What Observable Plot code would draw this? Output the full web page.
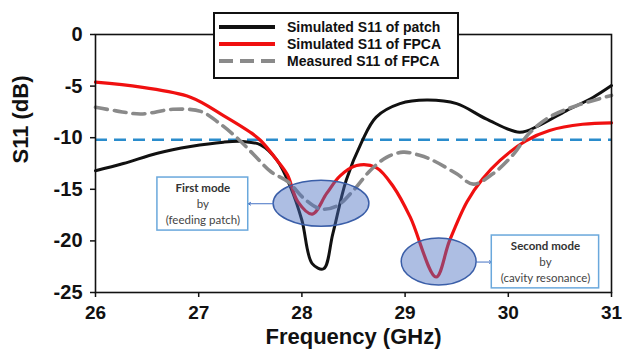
<!DOCTYPE html>
<html><head><meta charset="utf-8">
<script src="https://cdn.jsdelivr.net/npm/d3@7"></script>
<script src="https://cdn.jsdelivr.net/npm/@observablehq/plot@0.6"></script>
<style>
body{margin:0;background:#fff;}
#wrap{position:relative;width:622px;height:357px;font-family:"Liberation Sans",Arial,sans-serif;}
#legend{position:absolute;left:213px;top:12px;}
</style>
</head><body>
<div id="wrap"><div id="chart"></div><div id="legend"></div></div>
<script>
// ---- data ----
const xTicks = [26, 27, 28, 29, 30, 31];
const yTicks = [0, -5, -10, -15, -20, -25];
const seriesNames = ["Simulated S11 of patch", "Simulated S11 of FPCA", "Measured S11 of FPCA"];
const threshold = -10.2;

const patchFreq = [26.0, 26.27, 26.6, 26.92, 27.24, 27.43, 27.6, 27.76, 27.89, 28.0, 28.1, 28.21, 28.3, 28.43, 28.58, 28.72, 28.95, 29.21, 29.5, 29.79, 30.11, 30.3, 30.56, 30.82, 31.0];
const patchS11 = [-13.2, -12.5, -11.5, -10.85, -10.43, -10.37, -10.7, -12.2, -14.8, -18.0, -22.2, -22.7, -19.3, -14.1, -10.4, -8.0, -6.7, -6.35, -6.7, -8.2, -9.47, -8.8, -7.4, -6.1, -4.95];

const fpcaFreq = [26.0, 26.44, 26.92, 27.24, 27.5, 27.6, 27.76, 27.86, 27.96, 28.1, 28.24, 28.37, 28.53, 28.72, 28.89, 29.05, 29.3, 29.43, 29.6, 29.75, 29.92, 30.17, 30.4, 30.72, 31.0];
const fpcaS11 = [-4.62, -5.1, -6.07, -7.85, -9.47, -10.27, -12.2, -13.6, -16.2, -17.4, -15.4, -13.7, -12.7, -12.9, -14.8, -17.7, -23.5, -20.0, -16.2, -14.0, -12.2, -10.3, -9.3, -8.7, -8.56];

const measFreq = [26.0, 26.2, 26.44, 26.75, 27.02, 27.2, 27.37, 27.53, 27.7, 27.87, 28.01, 28.18, 28.34, 28.5, 28.66, 28.82, 28.98, 29.14, 29.27, 29.5, 29.66, 29.85, 30.05, 30.2, 30.4, 30.66, 31.0];
const measS11 = [-7.05, -7.4, -7.7, -7.25, -7.45, -8.6, -10.0, -11.6, -13.3, -14.3, -15.8, -16.9, -16.6, -15.1, -13.2, -11.9, -11.4, -11.7, -12.2, -13.5, -14.5, -13.5, -11.6, -9.6, -8.0, -6.9, -5.9];

// annotations
const ellipseF = [28.19, 29.33];
const ellipseDb = [-16.4, -22.05];
const ellipseHalfF = [0.464, 0.363];
const ellipseHalfDb = [2.23, 2.28];

const boxLeft = [26.6, 29.84];
const boxRight = [27.48, 30.88];
const boxTop = [-13.86, -19.48];
const boxBottom = [-19.0, -24.6];
const noteTitle = ["First mode", "Second mode"];
const noteBy = ["by", "by"];
const noteCause = ["(feeding patch)", "(cavity resonance)"];

const arrowFrom = [27.726, 29.693];
const arrowTo = [27.48, 29.84];
const arrowDb = [-16.4, -22.05];

// ---- tables ----
const toRows = (fs, vs) => fs.map((f, i) => ({f, v: vs[i]}));
const patch = toRows(patchFreq, patchS11);
const fpca = toRows(fpcaFreq, fpcaS11);
const meas = toRows(measFreq, measS11);
const boxes = boxLeft.map((l, i) => ({x1: l, x2: boxRight[i], y1: boxBottom[i], y2: boxTop[i],
  cx: (l + boxRight[i]) / 2, cy: (boxTop[i] + boxBottom[i]) / 2,
  title: noteTitle[i], by: noteBy[i], cause: noteCause[i]}));
const arrows = arrowFrom.map((a, i) => ({x1: a, x2: arrowTo[i], y: arrowDb[i]}));

function ellipseMark(index, scales) {
  const g = d3.create("svg:g");
  ellipseF.forEach((cx, i) => {
    const x0 = scales.x(cx), y0 = scales.y(ellipseDb[i]);
    g.append("ellipse").attr("cx", x0).attr("cy", y0)
      .attr("rx", Math.abs(scales.x(cx + ellipseHalfF[i]) - x0))
      .attr("ry", Math.abs(scales.y(ellipseDb[i] + ellipseHalfDb[i]) - y0))
      .attr("fill", "#4a6fc0").attr("fill-opacity", 0.45)
      .attr("stroke", "#3a5ea8").attr("stroke-width", 1.5);
  });
  return g.node();
}

const noteFont = "Lato, 'Open Sans', sans-serif";

const plot = Plot.plot({
  width: 622, height: 357,
  marginLeft: 95, marginRight: 11, marginTop: 34, marginBottom: 65,
  style: {fontFamily: "'Liberation Sans', Arial, sans-serif", background: "white", color: "#111", overflow: "visible"},
  x: {domain: [26, 31]},
  y: {domain: [-25, 0]},
  marks: [
    Plot.axisX({ticks: xTicks, tickSize: 5, tickPadding: 8, tickFormat: d => String(d), fontSize: 19, fontWeight: "bold", strokeWidth: 1.5, label: null}),
    Plot.axisY({ticks: yTicks, tickSize: 5, tickPadding: 8, tickFormat: d => String(d), fontSize: 20, fontWeight: "bold", strokeWidth: 1.5, label: null}),
    Plot.text(["S11 (dB)"], {frameAnchor: "left", dx: -75, rotate: -90, fontSize: 22, fontWeight: "bold", fill: "#111"}),
    Plot.text(["Frequency (GHz)"], {frameAnchor: "bottom", dy: 51, fontSize: 22, fontWeight: "bold", fill: "#111"}),
    Plot.ruleY([threshold], {stroke: "#2a8ccc", strokeWidth: 2.5, strokeDasharray: "12,7"}),
    Plot.line(patch, {x: "f", y: "v", stroke: "#111", strokeWidth: 3, curve: "catmull-rom"}),
    Plot.line(fpca, {x: "f", y: "v", stroke: "#f01010", strokeWidth: 3.2, curve: "catmull-rom"}),
    Plot.line(meas, {x: "f", y: "v", stroke: "#8a8a8a", strokeWidth: 3.6, strokeDasharray: "12,7", curve: "catmull-rom"}),
    ellipseMark,
    Plot.arrow(arrows, {x1: "x1", x2: "x2", y1: "y", y2: "y", stroke: "#4472c4", strokeWidth: 1, headLength: 4}),
    Plot.rect(boxes, {x1: "x1", x2: "x2", y1: "y1", y2: "y2", fill: "white", stroke: "#6aa8dc", strokeWidth: 1.5}),
    Plot.text(boxes, {x: "cx", y: "cy", text: "title", dy: -16, fontSize: 11.5, fontWeight: "bold", fill: "#333", fontFamily: noteFont}),
    Plot.text(boxes, {x: "cx", y: "cy", text: "by", dy: 0, fontSize: 11.5, fill: "#444", fontFamily: noteFont}),
    Plot.text(boxes, {x: "cx", y: "cy", text: "cause", dy: 16.5, fontSize: 11.5, fill: "#444", fontFamily: noteFont}),
    Plot.frame({stroke: "#111", strokeWidth: 1.6})
  ]
});
document.getElementById("chart").appendChild(plot);

// ---- legend ----
const lg = d3.select("#legend").append("svg").attr("width", 246).attr("height", 67);
lg.append("rect").attr("x", 1).attr("y", 1).attr("width", 244).attr("height", 65)
  .attr("fill", "white").attr("stroke", "#111").attr("stroke-width", 2);
const legendStroke = ["#111", "#f01010", "#8a8a8a"];
const legendDash = [null, null, "14,7"];
seriesNames.forEach((name, i) => {
  const y = 15 + i * 17;
  lg.append("line").attr("x1", 6).attr("x2", 62).attr("y1", y).attr("y2", y)
    .attr("stroke", legendStroke[i]).attr("stroke-width", 4).attr("stroke-dasharray", legendDash[i]);
  lg.append("text").attr("x", 74).attr("y", y).attr("dy", "0.35em")
    .attr("font-size", 14).attr("font-weight", "bold").attr("fill", "#111")
    .attr("font-family", "'Liberation Sans', Arial, sans-serif").text(name);
});
</script>
</body></html>
